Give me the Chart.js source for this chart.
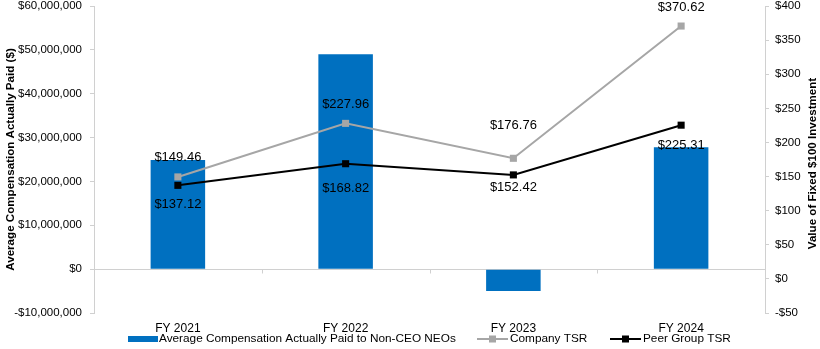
<!DOCTYPE html>
<html><head><meta charset="utf-8">
<script src="https://cdn.jsdelivr.net/npm/chart.js@4/dist/chart.umd.min.js"></script>
<style>html,body{margin:0;padding:0;background:#fff;}#wrap{width:820px;height:349px;position:relative;}</style>
</head><body><div id="wrap"><canvas id="c" width="820" height="349"></canvas></div>
<script>
const categories = ['FY 2021', 'FY 2022', 'FY 2023', 'FY 2024'];
const avgCompNonCEO = [24900000, 49000000, -5000000, 27800000];
const companyTSR = [149.46, 227.96, 176.76, 370.62];
const peerTSR = [137.12, 168.82, 152.42, 225.31];
const leftTicks = [-10000000, 0, 10000000, 20000000, 30000000, 40000000, 50000000, 60000000];
const rightTicks = [-50, 0, 50, 100, 150, 200, 250, 300, 350, 400];
const seriesNames = ['Average Compensation Actually Paid to Non-CEO NEOs', 'Company TSR', 'Peer Group TSR'];
const axisTitles = ['Average Compensation Actually Paid ($)', 'Value of Fixed $100 Investment'];

const FONT = '"Liberation Sans", Arial, Helvetica, sans-serif';
const BLUE = '#0070C0', GRAY = '#A6A6A6', AXIS = '#D0D0D0';
// label vertical offsets relative to each point (style only)
const labelOffsets = { 1: [-20, -19, -33, -19], 2: [19, 25, 13, 20] };

function money(v){ const s = Math.abs(v).toLocaleString('en-US'); return (v < 0 ? '-$' : '$') + s; }

const labelPlugin = {
  id: 'labels',
  afterDatasetsDraw(chart){
    const ctx = chart.ctx;
    ctx.save();
    ctx.font = '13px ' + FONT;
    ctx.fillStyle = '#000';
    ctx.textAlign = 'center';
    ctx.textBaseline = 'middle';
    [1,2].forEach(di => {
      const meta = chart.getDatasetMeta(di);
      meta.data.forEach((pt, i) => {
        const v = chart.data.datasets[di].data[i];
        ctx.fillText('$' + v.toFixed(2), pt.x, pt.y + labelOffsets[di][i]);
      });
    });
    ctx.restore();
  },
  beforeDatasetsDraw(chart){
    const ctx = chart.ctx, x = chart.scales.x, y = chart.scales.y;
    const y0 = Math.round(y.getPixelForValue(0)) + 0.5;
    ctx.save();
    ctx.strokeStyle = AXIS; ctx.lineWidth = 1;
    ctx.beginPath();
    for (let i = 0; i < categories.length - 1; i++){
      const bx = Math.round((x.getPixelForValue(i) + x.getPixelForValue(i+1)) / 2) + 0.5;
      ctx.moveTo(bx, y0); ctx.lineTo(bx, y0 + 4);
    }
    ctx.stroke();
    ctx.restore();
  },
  afterDraw(chart){
    const ctx = chart.ctx;
    const ca = chart.chartArea;
    ctx.save();
    ctx.font = 'bold 11.6px ' + FONT;
    ctx.fillStyle = '#000';
    ctx.textAlign = 'center';
    ctx.textBaseline = 'middle';
    ctx.save(); ctx.translate(10.5, (ca.top + ca.bottom) / 2); ctx.rotate(-Math.PI / 2);
    ctx.fillText(axisTitles[0], 0, 0); ctx.restore();
    ctx.save(); ctx.translate(813, (ca.top + ca.bottom) / 2 + 4); ctx.rotate(-Math.PI / 2);
    ctx.fillText(axisTitles[1], 0, 0); ctx.restore();

    const yc = 339;
    ctx.font = '11.8px ' + FONT;
    ctx.textAlign = 'left';
    ctx.fillStyle = BLUE;
    ctx.fillRect(128, yc - 3, 30, 6);
    ctx.fillStyle = '#000';
    ctx.fillText(seriesNames[0], 159, yc);
    const items = [[477, GRAY, seriesNames[1]], [610, '#000', seriesNames[2]]];
    items.forEach(([x0, col, name]) => {
      ctx.strokeStyle = col; ctx.lineWidth = 2;
      ctx.beginPath(); ctx.moveTo(x0, yc); ctx.lineTo(x0 + 31, yc); ctx.stroke();
      ctx.fillStyle = col; ctx.fillRect(x0 + 12, yc - 3.5, 7, 7);
      ctx.fillStyle = '#000';
      ctx.fillText(name, x0 + 33, yc);
    });
    ctx.restore();
  }
};

new Chart(document.getElementById('c'), {
  data: {
    labels: categories,
    datasets: [
      { type: 'bar', label: seriesNames[0], data: avgCompNonCEO, backgroundColor: BLUE,
        yAxisID: 'y', order: 3, categoryPercentage: 1, barPercentage: 0.325 },
      { type: 'line', label: seriesNames[1], data: companyTSR, borderColor: GRAY, backgroundColor: GRAY,
        borderWidth: 2, pointStyle: 'rect', pointRadius: 5, pointBorderWidth: 0, yAxisID: 'y1', order: 2, tension: 0 },
      { type: 'line', label: seriesNames[2], data: peerTSR, borderColor: '#000', backgroundColor: '#000',
        borderWidth: 2, pointStyle: 'rect', pointRadius: 5, pointBorderWidth: 0, yAxisID: 'y1', order: 1, tension: 0 }
    ]
  },
  options: {
    responsive: false, animation: false, devicePixelRatio: 1,
    layout: { padding: { top: 0, left: 0, right: 0, bottom: 0 } },
    plugins: { legend: { display: false }, tooltip: { enabled: false } },
    scales: {
      x: {
        grid: { display: false, drawTicks: false }, border: { display: false },
        ticks: { color: '#000', font: { family: FONT, size: 12 }, padding: 8 },
        afterFit(s){ s.height = 36; }
      },
      y: {
        position: 'left', min: -10000000, max: 60000000,
        afterBuildTicks(s){ s.ticks = leftTicks.map(v => ({ value: v })); },
        ticks: { color: '#000', font: { family: FONT, size: 11.5 }, padding: 8, callback: v => money(v) },
        grid: { drawOnChartArea: true, drawTicks: true, tickLength: 4, tickColor: AXIS,
                color: c => (c.tick && c.tick.value === 0) ? AXIS : 'rgba(0,0,0,0)' },
        border: { display: true, color: AXIS },
        afterFit(s){ s.width = 94; s.paddingTop = 6; }
      },
      y1: {
        position: 'right', min: -50, max: 400,
        afterBuildTicks(s){ s.ticks = rightTicks.map(v => ({ value: v })); },
        ticks: { color: '#000', font: { family: FONT, size: 11.5 }, padding: 6, callback: v => money(v) },
        grid: { drawOnChartArea: false, drawTicks: true, tickLength: 4, tickColor: AXIS },
        border: { display: true, color: AXIS },
        afterFit(s){ s.width = 55; s.paddingTop = 6; }
      }
    }
  },
  plugins: [labelPlugin]
});
</script></body></html>
